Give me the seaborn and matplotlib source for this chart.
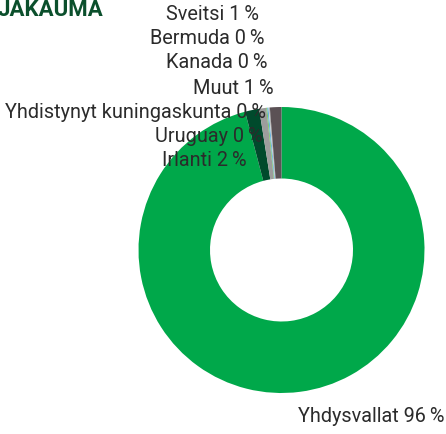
import matplotlib
matplotlib.use("Agg")
import matplotlib.pyplot as plt
import seaborn as sns

# Country split of the holdings (percent), clockwise from 12 o'clock
countries = ["Yhdysvallat", "Irlanti", "Muut", "Uruguay",
             "Yhdistynyt kuningaskunta", "Kanada", "Bermuda", "Sveitsi"]
shares = [95.9, 1.6, 0.8, 0.1, 0.15, 0.1, 0.05, 1.3]
colors = ["#00a84a", "#004a2c", "#9d9d9d", "#6cc04a",
          "#6ab4e0", "#c9c9c9", "#7a7a7a", "#5b5155"]

# Stacked label column, top to bottom
label_order = ["Sveitsi", "Bermuda", "Kanada", "Muut",
               "Yhdistynyt kuningaskunta", "Uruguay", "Irlanti"]

sns.set_theme(style="white")
plt.rcParams["font.family"] = ["Roboto", "DejaVu Sans"]

W, H = 446, 435
fig = plt.figure(figsize=(W / 100, H / 100), dpi=100)
fig.patch.set_facecolor("white")

cx, cy, r = 281.5, 251, 143
ax = fig.add_axes([(cx - r) / W, (H - cy - r) / H, 2 * r / W, 2 * r / H])
ax.pie(shares, colors=colors, startangle=90, counterclock=False,
       radius=1.0, wedgeprops=dict(width=0.5, linewidth=0))
ax.set_xlim(-1, 1)
ax.set_ylim(-1, 1)
ax.set_aspect("equal")
ax.axis("off")

value = dict(zip(countries, shares))

def pct(name):
    return f"{name} {round(value[name])}\u2009%"

# right edges and vertical centres of the stacked labels (pixels)
label_x = [259, 264, 268, 274, 266, 263, 247]
label_y = [14, 38, 63, 88, 112, 136, 161]
for name, lx, ly in zip(label_order, label_x, label_y):
    fig.text(lx / W, 1 - ly / H, pct(name), ha="right", va="center",
             fontsize=14.3, color="#2b2b2b")

fig.text(444 / W, 1 - 417 / H, pct("Yhdysvallat"), ha="right", va="center",
         fontsize=14.3, color="#2b2b2b")

fig.text(-2 / W, 1 - 16 / H, "JAKAUMA", ha="left", va="baseline",
         fontsize=16, fontweight="bold", color="#0b4f2c")

fig.savefig("out.png", dpi=100)
